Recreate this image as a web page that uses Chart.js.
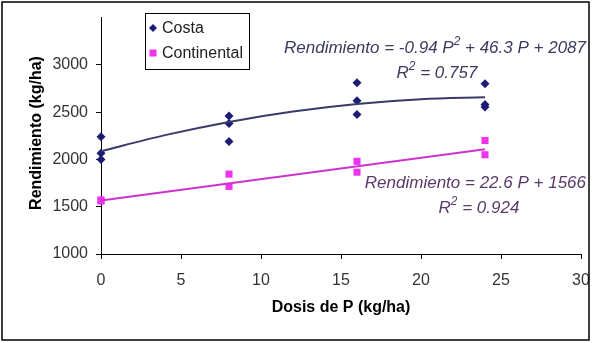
<!DOCTYPE html>
<html lang="es">
<head>
    <meta charset="UTF-8">
    <title>Rendimiento vs Dosis de P</title>
    <script src="https://cdn.jsdelivr.net/npm/chart.js"></script>
    <style>
        html, body { margin: 0; padding: 0; background: #fff; }
        #wrap { width: 594px; height: 343px; }
    </style>
</head>
<body>
<div id="wrap"><canvas id="myChart" width="594" height="343"></canvas></div>
<script>
// datos
const costaDosis = [0, 0, 0, 8, 8, 8, 16, 16, 16, 24, 24, 24];
const costaRend = [2240, 2065, 2000, 2460, 2380, 2190, 2810, 2620, 2475, 2800, 2580, 2555];
const contDosis = [0, 0, 8, 8, 16, 16, 24, 24];
const contRend = [1560, 1572, 1845, 1715, 1980, 1865, 2200, 2050];
const costaTrendDosis = [0, 4, 8, 12, 16, 20, 24];
const costaTrendRend = [2087, 2257, 2397, 2507, 2587, 2637, 2657];
const contTrendDosis = [0, 24];
const contTrendRend = [1566, 2108];
const xTicks = [0, 5, 10, 15, 20, 25, 30];
const yTicks = [1000, 1500, 2000, 2500, 3000];

const navy = '#1c1c74';
const navyLine = '#3a3a6a';
const magenta = '#ee33ee';
const magentaLine = '#cc33cc';
const FONT = 'Liberation Sans, Arial, sans-serif';

function pts(xs, ys) { return xs.map((x, i) => ({ x: x, y: ys[i] })); }

// texto con superindice, alineado a la derecha o centrado
function drawPieces(ctx, pieces, x, y, align, size, color) {
    ctx.save();
    ctx.fillStyle = color;
    ctx.textBaseline = 'middle';
    ctx.textAlign = 'left';
    let w = 0;
    pieces.forEach(p => {
        ctx.font = 'italic ' + (p.sup ? size * 0.7 : size) + 'px ' + FONT;
        w += ctx.measureText(p.t).width;
    });
    let cx = align === 'right' ? x - w : x - w / 2;
    pieces.forEach(p => {
        ctx.font = 'italic ' + (p.sup ? size * 0.7 : size) + 'px ' + FONT;
        ctx.fillText(p.t, cx, p.sup ? y - size * 0.36 : y);
        cx += ctx.measureText(p.t).width;
    });
    ctx.restore();
}

const extras = {
    id: 'extras',
    afterDraw(chart) {
        const ctx = chart.ctx;
        ctx.save();
        // marco exterior
        ctx.strokeStyle = '#000';
        ctx.lineWidth = 1.5;
        ctx.strokeRect(2, 2, 587, 338);

        // titulos de ejes
        ctx.fillStyle = '#000';
        ctx.font = 'bold 16px ' + FONT;
        ctx.textAlign = 'center';
        ctx.textBaseline = 'middle';
        ctx.fillText('Dosis de P (kg/ha)', 341, 308);
        ctx.save();
        ctx.translate(37, 133);
        ctx.rotate(-Math.PI / 2);
        ctx.fillText('Rendimiento (kg/ha)', 0, 0);
        ctx.restore();

        // leyenda
        ctx.lineWidth = 1;
        ctx.strokeStyle = '#000';
        ctx.fillStyle = '#fff';
        ctx.fillRect(145.5, 13.5, 104, 56);
        ctx.strokeRect(145.5, 13.5, 104, 56);
        ctx.fillStyle = navy;
        ctx.beginPath();
        ctx.moveTo(153, 24); ctx.lineTo(157, 28); ctx.lineTo(153, 32); ctx.lineTo(149, 28);
        ctx.closePath();
        ctx.fill();
        ctx.fillStyle = magenta;
        ctx.fillRect(149.5, 49.5, 7, 7);
        ctx.fillStyle = '#222';
        ctx.font = '16px ' + FONT;
        ctx.textAlign = 'left';
        ctx.fillText('Costa', 162, 29);
        ctx.fillText('Continental', 162, 54);
        ctx.restore();

        // ecuaciones
        drawPieces(ctx, [{ t: 'Rendimiento = -0.94 P' }, { t: '2', sup: true }, { t: ' + 46.3 P + 2087' }],
            586, 48, 'right', 17, '#3a3a5e');
        drawPieces(ctx, [{ t: 'R' }, { t: '2', sup: true }, { t: ' = 0.757' }],
            437, 73, 'center', 17, '#3a3a5e');
        drawPieces(ctx, [{ t: 'Rendimiento = 22.6 P + 1566' }],
            586, 183, 'right', 17, '#5a3a6a');
        drawPieces(ctx, [{ t: 'R' }, { t: '2', sup: true }, { t: ' = 0.924' }],
            479, 208, 'center', 17, '#5a3a6a');
    }
};

const ctx = document.getElementById('myChart').getContext('2d');
new Chart(ctx, {
    type: 'scatter',
    data: {
        datasets: [
            {
                label: 'Costa tendencia',
                type: 'line',
                data: pts(costaTrendDosis, costaTrendRend),
                borderColor: navyLine,
                borderWidth: 2,
                pointRadius: 0,
                cubicInterpolationMode: 'monotone',
                fill: false,
                clip: false
            },
            {
                label: 'Continental tendencia',
                type: 'line',
                data: pts(contTrendDosis, contTrendRend),
                borderColor: magentaLine,
                borderWidth: 2,
                pointRadius: 0,
                fill: false,
                clip: false
            },
            {
                label: 'Costa',
                data: pts(costaDosis, costaRend),
                pointStyle: 'rectRot',
                pointRadius: 4.5,
                backgroundColor: navy,
                borderColor: navy,
                borderWidth: 0,
                clip: false
            },
            {
                label: 'Continental',
                data: pts(contDosis, contRend),
                pointStyle: 'rect',
                pointRadius: 5,
                backgroundColor: magenta,
                borderColor: magenta,
                borderWidth: 0,
                clip: false
            }
        ]
    },
    options: {
        responsive: false,
        animation: false,
        layout: { padding: { left: 0, right: 13, top: 17, bottom: 0 } },
        plugins: {
            legend: { display: false },
            tooltip: { enabled: false }
        },
        scales: {
            x: {
                type: 'linear',
                min: 0,
                max: 30,
                afterBuildTicks(scale) { scale.ticks = xTicks.map(v => ({ value: v })); },
                afterFit(scale) {
                    scale.height = 89;
                    scale.paddingLeft = 0;
                    scale.paddingRight = 0;
                },
                grid: { drawOnChartArea: false, tickLength: 5, color: '#000' },
                border: { color: '#000', width: 1 },
                ticks: { padding: 12, color: '#333', font: { family: FONT, size: 16 },
                    callback: v => String(v) }
            },
            y: {
                min: 1000,
                max: 3500,
                afterBuildTicks(scale) { scale.ticks = yTicks.map(v => ({ value: v })); },
                afterFit(scale) { scale.width = 101; },
                grid: { drawOnChartArea: false, tickLength: 5, color: '#000' },
                border: { color: '#000', width: 1 },
                ticks: { padding: 8, color: '#333', font: { family: FONT, size: 16 },
                    callback: v => String(v) }
            }
        }
    },
    plugins: [extras]
});
</script>
</body>
</html>
